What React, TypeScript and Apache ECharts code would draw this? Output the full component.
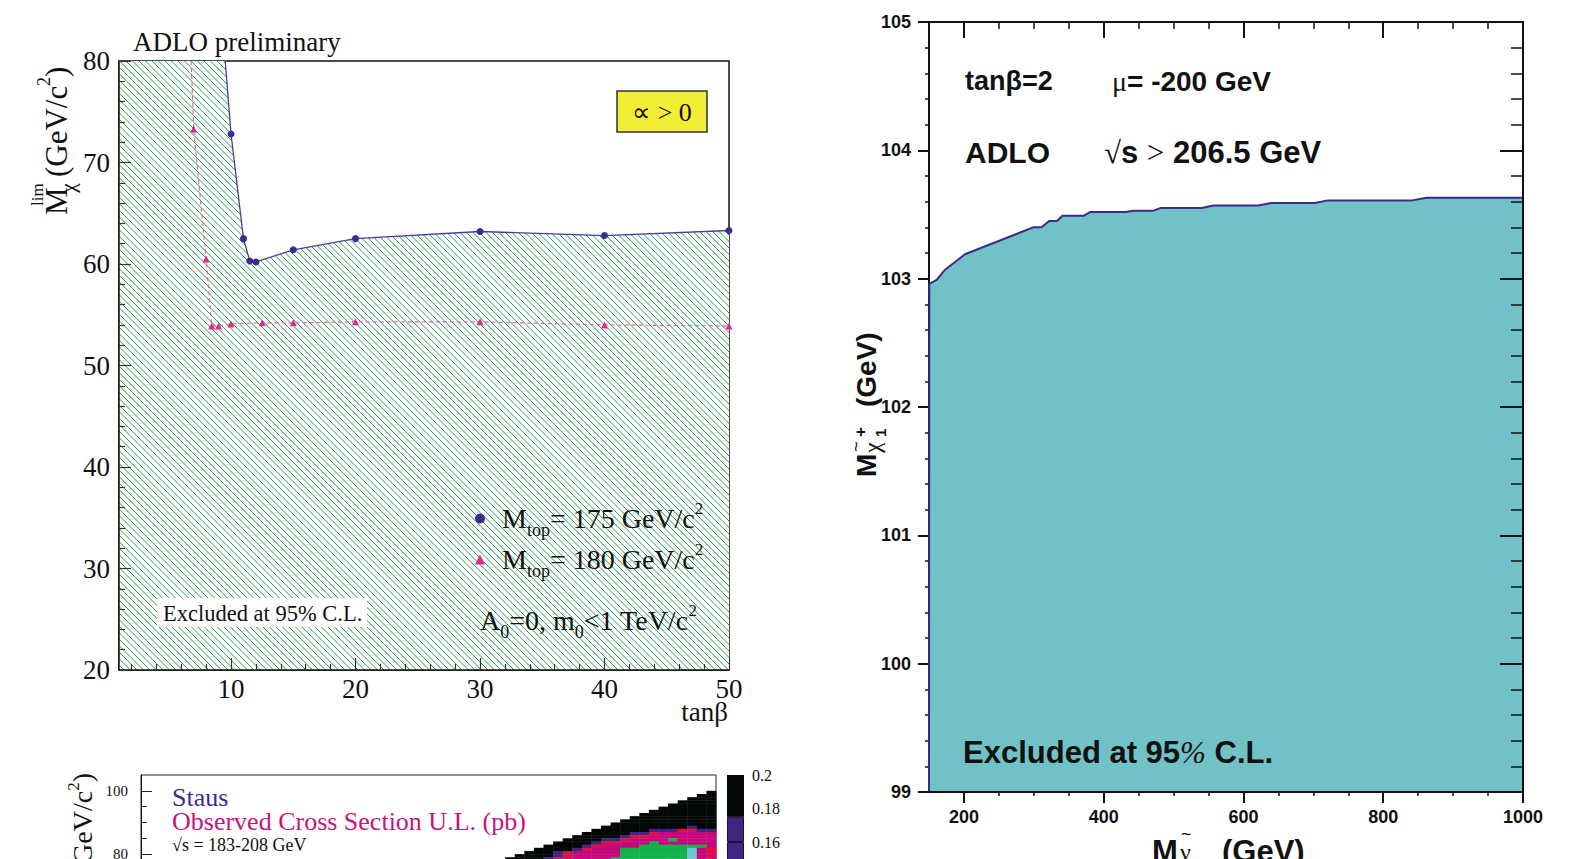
import React, { useEffect, useRef } from 'react';
import * as echarts from 'echarts';

const SERIF = '"Liberation Serif", "Times New Roman", Times, serif';
const SANS = '"Liberation Sans", Arial, Helvetica, sans-serif';

// ---------- Panel A: M_chi limit vs tan(beta) ----------
// first entry of each list is where the curve leaves the top of the frame (no marker)
const tanBeta175 = [9.53, 10, 11, 11.5, 12, 15, 20, 30, 40, 50];
const mLim175 = [80, 72.8, 62.5, 60.3, 60.2, 61.4, 62.5, 63.2, 62.8, 63.3];
const tanBeta180 = [6.8, 7, 8, 8.45, 9, 10, 12.5, 15, 20, 30, 40, 50];
const mLim180 = [80, 73.3, 60.5, 53.9, 53.9, 54.1, 54.2, 54.2, 54.3, 54.3, 54.0, 53.9];
const tanBetaMajor = [10, 20, 30, 40, 50];
const tanBetaMinor = [2, 4, 6, 8, 12, 14, 16, 18, 22, 24, 26, 28, 32, 34, 36, 38, 42, 44, 46, 48];
const legendMtop = ['175', '180'];

// ---------- Panel B: stau cross-section upper limit (cut off) ----------
const stauFirstCol = 76;
const neutralinoTopRow = 99;
const ulCodes = 'KPRMGC';
const ulPalette = ['#040707', '#3E2683', '#E3103F', '#C4087C', '#12B14B', '#6FC6D1'];
const ulRows = [
  '.......................K',
  '......................KK',
  '.....................KKK',
  '....................KKKK',
  '...................KKKKK',
  '..................KKKKKK',
  '.................KKKKKKK',
  '................KKKKKKKK',
  '...............KKKKKKKKK',
  '..............KKKKKKKKKK',
  '.............KKKKKKKKKKK',
  '............KKKKKKKKKPKK',
  '...........KKKKKKPPPRRPP',
  '..........KKKKKPPRMMMMMM',
  '.........KKKKKPRRMMMMMMM',
  '........KKKKPPRMMMMGMMMM',
  '.......KKKKPRRMMMGMMMMMM',
  '......KKKKPRMMMMGGGGGGGM',
  '.....KKKKPRMMMGGGGGGGCMR',
  '....KKKPRMMMMMGGGGGGGCMR',
  '...KKKKPRMMMMMGGGGGGGCMM',
  '..KKKKPRMMMMMGGGGGGGGCMR',
];
const stauYMajor = [60, 80, 100];
const stauYLabels = [80, 100];
const stauYMinor = [65, 70, 75, 85, 90, 95];
const colorbarSegments = [0.16, 0.015, 0.025];
const colorbarColors = ['#3E2683', '#3E2683', '#040707'];
const colorbarLabels = [0.16, 0.18, 0.2];

// ---------- Panel C: chargino mass limit vs sneutrino mass ----------
const sneutrinoMass = [150, 150.4, 161, 173, 201.5, 299, 311, 322, 333, 341, 371, 381, 432, 442, 471, 481, 540, 557, 621, 640, 702, 721, 841, 862, 1000, 1000];
const charginoLimit = [99, 102.96, 102.99, 103.07, 103.19, 103.40, 103.40, 103.45, 103.45, 103.49, 103.49, 103.52, 103.52, 103.53, 103.53, 103.55, 103.55, 103.57, 103.57, 103.59, 103.59, 103.61, 103.61, 103.63, 103.63, 99];
const sneutrinoMajor = [200, 400, 600, 800, 1000];
const sneutrinoTopMajor = [200, 400, 600, 800];
const sneutrinoMinor = [250, 300, 350, 450, 500, 550, 650, 700, 750, 850, 900, 950];

const PURPLE = '#3B2B8E';
const PINK = '#E2288A';

function makeHatch() {
  const s = 13;
  const c = document.createElement('canvas');
  c.width = s;
  c.height = s;
  const ctx = c.getContext('2d')!;
  ctx.fillStyle = '#ffffff';
  ctx.fillRect(0, 0, s, s);
  ctx.strokeStyle = '#1F9E52';
  ctx.lineWidth = 1;
  for (const k of [-13, -6.5, 0, 6.5, 13]) {
    ctx.beginPath();
    ctx.moveTo(k, 0);
    ctx.lineTo(k + s, s);
    ctx.stroke();
  }
  return c;
}

function txt(x: number, y: number, text: string, font: string, fill = '#111', align = 'left', extra: any = {}) {
  return {
    type: 'text', x, y, z: 100,
    style: { text, font, fill, align, textAlign: align, verticalAlign: 'middle', textVerticalAlign: 'middle', ...extra },
  };
}

function serifRich(main: number, L: number) {
  return {
    m: { fontFamily: SERIF, fontSize: main, lineHeight: L, fill: '#111' },
    sub: { fontFamily: SERIF, fontSize: 18, height: 18, lineHeight: 18, verticalAlign: 'bottom', fill: '#111' },
    sup: { fontFamily: SERIF, fontSize: 17, height: 20, lineHeight: 20, verticalAlign: 'top', fill: '#111' },
  };
}

function buildOption() {
  const hatch = makeHatch();
  const m175Data = tanBeta175.map((x, i) => (i === 0 ? { value: [x, mLim175[i]], symbol: 'none' } : [x, mLim175[i]]));
  const m180Data = tanBeta180.map((x, i) => (i === 0 ? { value: [x, mLim180[i]], symbol: 'none' } : [x, mLim180[i]]));
  const hatchData = [[1, 80], ...tanBeta175.map((x, i) => [x, mLim175[i]])];
  const heatData: number[][] = [];
  ulRows.forEach((row, i) => {
    for (let j = 0; j < row.length; j++) {
      const k = ulCodes.indexOf(row[j]);
      if (k >= 0) heatData.push([stauFirstCol + j, neutralinoTopRow - i, k]);
    }
  });
  const rightData = sneutrinoMass.map((x, i) => [x, charginoLimit[i]]);

  const plain = (v: number) => String(v);
  const serifLabel = { fontFamily: SERIF, fontSize: 27, color: '#111', formatter: plain };
  const boldLabel = { fontFamily: SANS, fontSize: 18, fontWeight: 'bold', color: '#111', formatter: plain };
  const blackLine = (w: number) => ({ show: true, lineStyle: { color: '#111', width: w } });
  const noLine = { show: false };
  const gridBase = { show: false, containLabel: false, outerBoundsMode: 'none' };

  return {
    animation: false,
    backgroundColor: '#ffffff',
    grid: [
      { ...gridBase, left: 119, top: 61, width: 610, height: 609, show: true, borderColor: '#111', borderWidth: 1.5 },
      { ...gridBase, left: 141, top: 775, width: 575, height: 142.4, show: true, borderColor: '#222', borderWidth: 1 },
      { ...gridBase, left: 727, top: 775, width: 17, height: 167.5 },
      { ...gridBase, left: 929, top: 22, width: 594, height: 770, show: true, borderColor: '#111', borderWidth: 2 },
    ],
    xAxis: [
      {
        gridIndex: 0, type: 'value', min: 1, max: 50, position: 'bottom', z: 5,
        axisLine: blackLine(1.5),
        axisTick: { show: true, inside: true, length: 12, customValues: tanBetaMajor, lineStyle: { color: '#333', width: 1.2 } },
        axisLabel: { customValues: tanBetaMajor, margin: 5, ...serifLabel },
        splitLine: noLine,
      },
      {
        gridIndex: 0, type: 'value', min: 1, max: 50, position: 'bottom', z: 5,
        axisLine: noLine, axisLabel: { show: false }, splitLine: noLine,
        axisTick: { show: true, inside: true, length: 6, customValues: tanBetaMinor, lineStyle: { color: '#333', width: 1.2 } },
      },
      {
        gridIndex: 1, type: 'value', min: 40, max: 100, position: 'bottom',
        axisLine: blackLine(1), axisLabel: { show: false }, axisTick: { show: false }, splitLine: noLine,
      },
      {
        gridIndex: 2, type: 'category', data: ['cb'], show: false,
      },
      {
        gridIndex: 3, type: 'value', min: 150, max: 1000, position: 'bottom', z: 5,
        axisLine: blackLine(2),
        axisTick: { show: true, inside: false, length: 11, customValues: sneutrinoMajor, lineStyle: { color: '#111', width: 2 } },
        axisLabel: { customValues: sneutrinoMajor, margin: 16, ...boldLabel },
        splitLine: noLine,
      },
      {
        gridIndex: 3, type: 'value', min: 150, max: 1000, position: 'bottom', z: 5,
        axisLine: noLine, axisLabel: { show: false }, splitLine: noLine,
        axisTick: { show: true, inside: false, length: 4, customValues: sneutrinoMinor, lineStyle: { color: '#111', width: 1.5 } },
      },
      {
        gridIndex: 3, type: 'value', min: 150, max: 1000, position: 'top', z: 5,
        axisLine: blackLine(2), axisLabel: { show: false }, splitLine: noLine,
        axisTick: { show: true, inside: true, length: 16, customValues: sneutrinoTopMajor, lineStyle: { color: '#111', width: 2 } },
      },
      {
        gridIndex: 3, type: 'value', min: 150, max: 1000, position: 'top', z: 5,
        axisLine: noLine, axisLabel: { show: false }, splitLine: noLine,
        axisTick: { show: true, inside: true, length: 7, customValues: sneutrinoMinor, lineStyle: { color: '#111', width: 1.5 } },
      },
    ],
    yAxis: [
      {
        gridIndex: 0, type: 'value', min: 20, max: 80, interval: 10, position: 'left', z: 5,
        axisLine: blackLine(1.5),
        axisTick: { show: true, inside: true, length: 12, lineStyle: { color: '#333', width: 1.2 } },
        minorTick: { show: true, splitNumber: 5, length: 6, lineStyle: { color: '#333', width: 1.2 } },
        axisLabel: { margin: 9, ...serifLabel },
        splitLine: noLine, minorSplitLine: noLine,
      },
      {
        gridIndex: 1, type: 'value', min: 60, max: 105, position: 'left', z: 5,
        axisLine: blackLine(1),
        axisTick: { show: true, inside: true, length: 11, customValues: stauYMajor, lineStyle: { color: '#222', width: 1 } },
        axisLabel: { customValues: stauYLabels, margin: 13, fontFamily: SERIF, fontSize: 15, color: '#111' },
        splitLine: noLine,
      },
      {
        gridIndex: 1, type: 'value', min: 60, max: 105, position: 'left', z: 5,
        axisLine: noLine, axisLabel: { show: false }, splitLine: noLine,
        axisTick: { show: true, inside: true, length: 6, customValues: stauYMinor, lineStyle: { color: '#222', width: 1 } },
      },
      {
        gridIndex: 2, type: 'value', min: 0.1, max: 0.2, position: 'right',
        axisLine: noLine, axisTick: { show: false }, splitLine: noLine,
        axisLabel: { customValues: colorbarLabels, margin: 8, fontFamily: SERIF, fontSize: 16, color: '#111', formatter: (v: number) => String(Math.round(v * 100) / 100) },
      },
      {
        gridIndex: 3, type: 'value', min: 99, max: 105, interval: 1, position: 'left',
        axisLine: blackLine(2),
        axisTick: { show: true, inside: false, length: 11, lineStyle: { color: '#111', width: 2 } },
        minorTick: { show: true, splitNumber: 5, length: 4, lineStyle: { color: '#111', width: 1.5 } },
        axisLabel: { margin: 18, ...boldLabel },
        splitLine: noLine, minorSplitLine: noLine,
      },
      {
        gridIndex: 3, type: 'value', min: 99, max: 105, interval: 1, position: 'right', z: 5,
        axisLine: blackLine(2), axisLabel: { show: false },
        axisTick: { show: true, inside: true, length: 23, lineStyle: { color: '#111', width: 2 } },
        minorTick: { show: true, splitNumber: 5, length: 12, lineStyle: { color: '#111', width: 1.5 } },
        splitLine: noLine, minorSplitLine: noLine,
      },
    ],
    legend: {
      show: true, orient: 'vertical', left: 475, top: 498, padding: 0, itemGap: 0,
      itemWidth: 10, itemHeight: 10, selectedMode: false, z: 20,
      data: [{ name: 'M175', icon: 'circle' }, { name: 'M180', icon: 'triangle' }],
      formatter: (name: string) => `{g| }{m|M}{sub|top}{m|= ${name === 'M175' ? legendMtop[0] : legendMtop[1]} GeV/c}{sup|2}`,
      textStyle: {
        fontFamily: SERIF, fontSize: 28, color: '#111',
        rich: {
          g: { width: 12 },
          m: { fontFamily: SERIF, fontSize: 28, lineHeight: 41, color: '#111' },
          sub: { fontFamily: SERIF, fontSize: 18, height: 18, lineHeight: 18, verticalAlign: 'bottom', color: '#111' },
          sup: { fontFamily: SERIF, fontSize: 17, height: 20, lineHeight: 20, verticalAlign: 'top', color: '#111' },
        },
      },
    },
    series: [
      {
        type: 'line', name: 'hatch', xAxisIndex: 0, yAxisIndex: 0, data: hatchData,
        symbol: 'none', silent: true, z: 1,
        lineStyle: { width: 0, opacity: 0 },
        areaStyle: { color: { image: hatch, repeat: 'repeat' }, opacity: 1, origin: 'start' },
      },
      {
        type: 'line', name: 'M180', xAxisIndex: 0, yAxisIndex: 0, data: m180Data,
        symbol: 'triangle', symbolSize: 7, showSymbol: true, z: 3,
        itemStyle: { color: PINK },
        lineStyle: { color: '#EC5FA6', width: 1.2, type: [4, 3] },
      },
      {
        type: 'line', name: 'M175', xAxisIndex: 0, yAxisIndex: 0, data: m175Data,
        symbol: 'circle', symbolSize: 7, showSymbol: true, z: 4,
        itemStyle: { color: PURPLE },
        lineStyle: { color: '#4B3C9A', width: 1.3 },
      },
      {
        type: 'custom', name: 'ul', xAxisIndex: 2, yAxisIndex: 1, data: heatData, silent: true,
        encode: { x: 0, y: 1 },
        renderItem: (params: any, api: any) => {
          const c = api.value(0);
          const r = api.value(1);
          const k = api.value(2);
          const a = api.coord([c, r + 1]);
          const b = api.coord([c + 1, r]);
          return {
            type: 'rect',
            shape: { x: a[0], y: a[1], width: b[0] - a[0] + 0.4, height: b[1] - a[1] + 0.4 },
            style: { fill: ulPalette[k] },
          };
        },
      },
      ...colorbarSegments.map((v, i) => ({
        type: 'bar', name: 'cb' + i, xAxisIndex: 3, yAxisIndex: 3, stack: 'cb', data: [v],
        barWidth: '100%', silent: true,
        itemStyle: { color: colorbarColors[i], borderColor: i < 2 ? '#1A1040' : colorbarColors[i], borderWidth: i < 2 ? 1 : 0 },
      })),
      {
        type: 'line', name: 'chargino', xAxisIndex: 4, yAxisIndex: 4, data: rightData,
        symbol: 'none', silent: true, z: 2,
        lineStyle: { color: '#3A2A8A', width: 2 },
        areaStyle: { color: '#70C2C6', opacity: 1, origin: 'start' },
      },
    ],
    graphic: {
      elements: [
        // Panel A texts
        txt(133, 42, 'ADLO preliminary', `27px ${SERIF}`),
        {
          type: 'group', x: 67, y: 215, rotation: Math.PI / 2, z: 100,
          children: [
            txt(0, -10.5, 'M', `31px ${SERIF}`),
            txt(9, -29.8, 'lim', `17px ${SERIF}`),
            txt(22, 0.5, 'χ', `22px ${SERIF}`),
            txt(38, -10.5, '(GeV/c', `31px ${SERIF}`),
            txt(129, -23, '2', `18px ${SERIF}`),
            txt(138, -10.5, ')', `31px ${SERIF}`),
          ],
        },
        {
          type: 'rect', z: 100, shape: { x: 617, y: 91, width: 90, height: 41 },
          style: { fill: '#F2EE34', stroke: '#333', lineWidth: 1.5 },
        },
        txt(662, 112, '∝ > 0', `26px ${SERIF}`, '#111', 'center'),
        {
          type: 'rect', z: 99, shape: { x: 157, y: 598, width: 210, height: 29 },
          style: { fill: '#ffffff' },
        },
        txt(163, 613, 'Excluded at 95% C.L.', `22.5px ${SERIF}`),
        {
          type: 'text', x: 480, y: 620.5, z: 100,
          style: {
            text: '{m|A}{sub|0}{m|=0, m}{sub|0}{m|<1 TeV/c}{sup|2}',
            align: 'left', textAlign: 'left', verticalAlign: 'middle', textVerticalAlign: 'middle',
            fill: '#111', font: `28px ${SERIF}`, rich: serifRich(28, 41),
          },
        },
        txt(728, 712, 'tanβ', `27px ${SERIF}`, '#111', 'right'),
        // Panel B texts
        txt(172, 797, 'Staus', `26px ${SERIF}`, '#3A2C8E'),
        txt(172, 821, 'Observed Cross Section U.L. (pb)', `26px ${SERIF}`, '#C8127E'),
        txt(172, 845, '√s = 183-208 GeV', `18px ${SERIF}`, '#111'),
        txt(172, 869, 'ADLO Preliminary', `26px ${SERIF}`, '#1DB04A'),
        {
          type: 'group', x: 92, y: 773, rotation: Math.PI / 2, z: 100,
          children: [
            txt(0, -9.5, ')', `28px ${SERIF}`, '#111', 'right'),
            txt(-9.3, -19, '2', `17px ${SERIF}`, '#111', 'right'),
            txt(-17.8, -9.5, 'M (GeV/c', `28px ${SERIF}`, '#111', 'right'),
          ],
        },
        // Panel C texts
        txt(965, 81, 'tanβ=2', `bold 27px ${SANS}`),
        {
          type: 'text', x: 1112, y: 81, z: 100,
          style: {
            text: '{r|μ}{b|= -200 GeV}', align: 'left', textAlign: 'left', verticalAlign: 'middle', textVerticalAlign: 'middle',
            font: `bold 28px ${SANS}`, fill: '#111',
            rich: {
              r: { fontFamily: SERIF, fontSize: 28, fill: '#111' },
              b: { fontFamily: SANS, fontSize: 28, fontWeight: 'bold', fill: '#111' },
            },
          },
        },
        txt(965, 152, 'ADLO', `bold 30px ${SANS}`),
        {
          type: 'text', x: 1104, y: 152, z: 100,
          style: {
            text: '{r|√}{b|s }{r|>}{b| 206.5 GeV}', align: 'left', textAlign: 'left', verticalAlign: 'middle', textVerticalAlign: 'middle',
            font: `bold 31px ${SANS}`, fill: '#111',
            rich: {
              r: { fontFamily: SERIF, fontSize: 31, fill: '#111' },
              b: { fontFamily: SANS, fontSize: 31, fontWeight: 'bold', fill: '#111' },
            },
          },
        },
        {
          type: 'text', x: 963, y: 752, z: 100,
          style: {
            text: '{b|Excluded at 95}{r|%}{b| C.L.}', align: 'left', textAlign: 'left', verticalAlign: 'middle', textVerticalAlign: 'middle',
            font: `bold 31px ${SANS}`, fill: '#111',
            rich: {
              r: { fontFamily: SERIF, fontSize: 31, fontStyle: 'italic', fill: '#111' },
              b: { fontFamily: SANS, fontSize: 31, fontWeight: 'bold', fill: '#111' },
            },
          },
        },
        {
          type: 'group', x: 876, y: 477, rotation: Math.PI / 2, z: 100,
          children: [
            txt(0, -9.8, 'M', `bold 28px ${SANS}`),
            txt(24, -4, 'χ', `24px ${SERIF}`),
            txt(25, -20, '~', `18px ${SANS}`),
            txt(40, 4.5, '1', `bold 15px ${SANS}`),
            txt(40, -16, '+', `bold 17px ${SANS}`),
            txt(70, -9.8, '(GeV)', `bold 28px ${SANS}`),
          ],
        },
        txt(1152, 851, 'M', `bold 31px ${SANS}`),
        txt(1180, 852, 'ν', `24px ${SERIF}`),
        txt(1181, 834, '~', `18px ${SANS}`),
        txt(1222, 851, '(GeV)', `bold 31px ${SANS}`),
      ],
    },
  };
}

export default function App() {
  const ref = useRef<HTMLDivElement>(null);
  useEffect(() => {
    const el = ref.current;
    if (!el) return;
    const chart = echarts.init(el, null, { renderer: 'svg', width: 1572, height: 859 });
    chart.setOption(buildOption() as any);
    return () => chart.dispose();
  }, []);
  return (
    <div
      ref={ref}
      style={{ position: 'absolute', left: 0, top: 0, width: 1572, height: 859, background: '#ffffff', overflow: 'hidden' }}
    />
  );
}
